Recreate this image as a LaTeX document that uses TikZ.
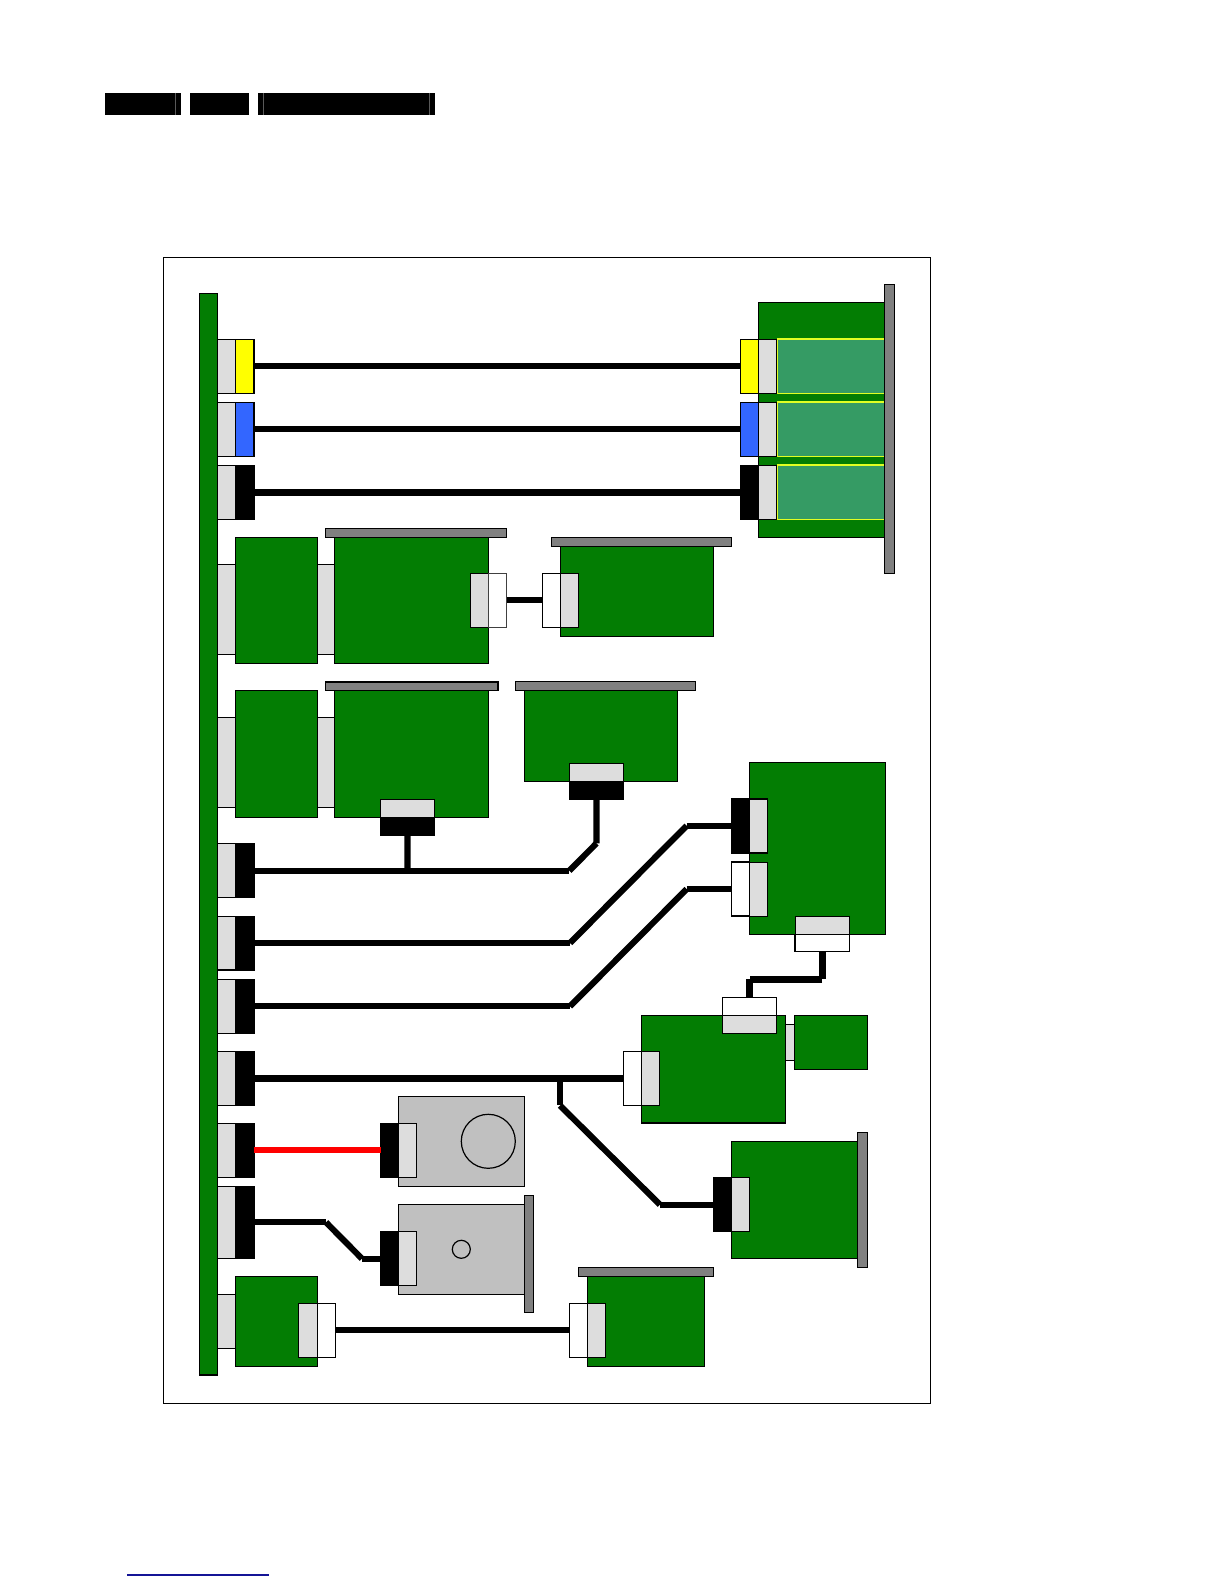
\documentclass[tikz,border=0pt]{standalone}
\usetikzlibrary{calc}
\definecolor{pcb}{RGB}{3,125,3}
\definecolor{lite}{RGB}{221,221,221}
\definecolor{barg}{RGB}{128,128,128}
\definecolor{motor}{RGB}{192,192,192}
\definecolor{panelg}{RGB}{53,155,100}
\definecolor{panely}{RGB}{225,255,35}
\definecolor{blu}{RGB}{51,102,255}
\definecolor{navy}{RGB}{20,20,150}
\definecolor{plugy}{RGB}{255,255,0}
\tikzset{
  box/.style={draw=black,line width=0.95pt,inner sep=0pt,outer sep=0pt,anchor=north west},
  board/.style={box,fill=pcb},
  plug/.style={box,fill=lite},
  thin plug/.style={box,fill=lite,line width=0.75pt},
  open/.style={box,fill=white,line width=0.8pt},
  ylw/.style={box,fill=plugy},
  blue plug/.style={box,fill=blu},
  blk/.style={box,fill=black},
  bar/.style={box,fill=barg},
  motorbox/.style={box,fill=motor,line width=0.8pt},
  panel/.style={box,fill=panelg,draw=panely,line width=0.95pt},
  inkbar/.style={box,fill=black,draw=none},
  wire/.style={draw=black,line width=4.6pt,line cap=butt},
  wire3/.style={wire,line width=5pt},
  redwire/.style={wire,draw=red},
  hub/.style={draw=black,line width=0.9pt,fill=none},
  headerline/.style={draw=black!65,line width=0.8pt}
}
\newcommand{\bx}[6][box]{%
  \pgfmathsetmacro{\bxw}{(#5-#3)*0.75}%
  \pgfmathsetmacro{\bxh}{(#6-#4)*0.75}%
  \node[#1,minimum width=\bxw pt,minimum height=\bxh pt] (#2) at (#3,#4) {};}
\begin{document}
\begin{tikzpicture}[x=0.75pt,y=-0.75pt]
\useasboundingbox (0,0) rectangle (1224,1584);
\fill[white] (0,0) rectangle (1224,1584);
% header
\bx[inkbar]{h1}{105}{93}{180.7}{114.7}
\bx[inkbar]{h2}{190}{93}{249}{114.7}
\bx[inkbar]{h3}{258}{93}{434.7}{114.7}
\draw[headerline] (175.7,93) -- (175.7,114.7);
\draw[headerline] (263.3,93) -- (263.3,114.7);
\draw[headerline] (429.3,93) -- (429.3,114.7);
% footer
\coordinate (fa) at (127,1575); \coordinate (fb) at (269,1575);
\draw[navy,line width=0.85pt] (fa) -- (fb);
% frame
\bx[box,line width=0.8pt]{frame}{163.7}{257.7}{930.1}{1403.5}

% --- wire way-points
\coordinate (w4a) at (569.3,870.7);
\coordinate (w4b) at (596.5,843.3);
\coordinate (w5a) at (570,943);
\coordinate (w5b) at (686.7,825.7);
\coordinate (w6a) at (570,1006.3);
\coordinate (w6b) at (686.7,889);
\coordinate (w7a) at (560,1078.3);
\coordinate (w7b) at (560,1104.7);
\coordinate (w7c) at (560,1105.5);
\coordinate (w7d) at (660,1204.7);
\coordinate (w9a) at (326,1222.3);
\coordinate (w9b) at (362,1258.7);
\coordinate (ea) at (822.2,979.3);
\coordinate (eb) at (749.5,979.3);
\coordinate (t4) at (407.5,870.7);

% --- main bus
\bx[board]{bus}{199.3}{293.5}{217.3}{1375}

% --- top-right assembly
\bx[board]{rb}{758.3}{302.7}{884.7}{537.3}
\bx[panel]{p1}{777.3}{339}{884.7}{393.3}
\bx[panel]{p2}{777.3}{402}{884.7}{456.3}
\bx[panel]{p3}{777.3}{465}{884.7}{519.3}
\bx[bar]{rbar}{884.7}{284.7}{894.3}{573.3}

% --- boards, row 1
\bx[plug]{a1l}{217.3}{564.3}{235.3}{654.3}
\bx[plug]{a1r}{317.3}{564.3}{334.7}{654.3}
\bx[board]{a1}{235.3}{537.3}{317.3}{663.3}
\bx[board]{b1}{334.7}{537.3}{488.3}{663.3}
\bx[bar]{b1bar}{325.3}{528.3}{506.7}{537.3}
\bx[board]{c1}{560.7}{546.3}{713.3}{636.3}
\bx[bar]{c1bar}{551.3}{537.3}{731.3}{546.3}

% --- boards, row 2
\bx[plug]{a2l}{217.3}{717.3}{235.3}{807.7}
\bx[plug]{a2r}{317.3}{717.3}{334.7}{807.7}
\bx[board]{a2}{235.3}{690.7}{317.3}{817.3}
\bx[board]{b2}{334.7}{690.7}{488.3}{817.3}
\bx[bar]{b2bar}{325.3}{682}{497.9}{690.7}
\bx[board]{d}{524.7}{690.7}{677.3}{781.3}
\bx[bar]{dbar}{515.3}{681.3}{695.7}{690.7}

% --- right boards
\bx[board]{e}{749.3}{762.7}{885.7}{934.3}
\bx[plug]{fg}{785.3}{1024.3}{795}{1060.3}
\bx[board]{f}{641.3}{1015.3}{785.3}{1123}
\bx[board]{g}{794.3}{1015.3}{867.7}{1069.3}
\bx[board]{hb}{731.3}{1141.3}{857.7}{1258.3}
\bx[bar]{hbar}{857.7}{1132.3}{867.7}{1267.3}
\bx[board]{i}{587.3}{1276.7}{704.7}{1366.3}
\bx[bar]{ibar}{578.3}{1267.3}{713.7}{1276.7}
\bx[plug]{jl}{217.3}{1294.3}{235.3}{1348.3}
\bx[board]{j}{235.3}{1276.3}{317.3}{1366.3}

% --- motors
\bx[motorbox]{m1}{398.3}{1096.3}{524.3}{1186.3}
\bx[motorbox]{m2}{398.3}{1204.3}{524.3}{1294.3}
\bx[bar]{m2bar}{524.3}{1195.3}{533.7}{1312.3}
\node[hub,circle,minimum size=40.5pt,inner sep=0pt,outer sep=0pt] (m1c) at (488.3,1141.3) {};
\node[hub,circle,minimum size=13.5pt,inner sep=0pt,outer sep=0pt] (m2c) at (461.3,1249.3) {};

% --- left connectors
\bx[plug]{l1a}{217.3}{339.3}{235.3}{393.3}  \bx[ylw]{l1b}{235.3}{339.3}{254}{393.3}
\bx[plug]{l2a}{217.3}{402.3}{235.3}{456.3}  \bx[blue plug]{l2b}{235.3}{402.3}{254}{456.3}
\bx[plug]{l3a}{217.3}{465.3}{235.3}{519.3}  \bx[blk]{l3b}{235.3}{465.3}{254}{519.3}
\bx[plug]{l4a}{217.3}{843.7}{235.3}{897.7}  \bx[blk]{l4b}{235.3}{843.7}{254}{897.7}
\bx[plug]{l5a}{217.3}{916.3}{235.3}{970}    \bx[blk]{l5b}{235.3}{916.3}{254}{970}
\bx[plug]{l6a}{217.3}{979.3}{235.3}{1033.3} \bx[blk]{l6b}{235.3}{979.3}{254}{1033.3}
\bx[plug]{l7a}{217.3}{1051.3}{235.3}{1105.3}\bx[blk]{l7b}{235.3}{1051.3}{254}{1105.3}
\bx[plug]{l8a}{217.3}{1123.3}{235.3}{1177.3}\bx[blk]{l8b}{235.3}{1123.3}{254}{1177.3}
\bx[plug]{l9a}{217.3}{1186.3}{235.3}{1258.3}\bx[blk]{l9b}{235.3}{1186.3}{254}{1258.3}

% --- far-end connectors
\bx[ylw]{r1a}{740.7}{339.3}{758.3}{393.3}  \bx[plug]{r1b}{758.3}{339.3}{776.7}{393.3}
\bx[blue plug]{r2a}{740.7}{402.3}{758.3}{456.3} \bx[plug]{r2b}{758.3}{402.3}{776.7}{456.3}
\bx[blk]{r3a}{740.7}{465.3}{758.3}{519.3}  \bx[plug]{r3b}{758.3}{465.3}{776.7}{519.3}
\bx[thin plug]{x1a}{470.7}{573.3}{488.3}{627.3} \bx[open,draw=black!75]{x1b}{488.3}{573.3}{506.7}{627.3}
\bx[open]{x2a}{542.3}{573.3}{560.7}{627.3} \bx[thin plug]{x2b}{560.7}{573.3}{578.7}{627.3}
\bx[plug]{b2c}{380.3}{799.3}{434.7}{817.3} \bx[blk]{b2k}{380.3}{817.3}{434.7}{835.3}
\bx[plug]{dc}{569.3}{763.3}{623.7}{781.3}  \bx[blk]{dk}{569.3}{781.3}{623.7}{799.7}
\bx[blk]{e1a}{731.3}{798.9}{749.3}{852.9}  \bx[plug]{e1b}{749.3}{798.9}{767.3}{852.9}
\bx[open]{e2a}{731.3}{862}{749.3}{916}     \bx[thin plug]{e2b}{749.3}{862}{767.3}{916}
\bx[thin plug]{e3a}{795}{916.3}{849.3}{934.3} \bx[open]{e3b}{795}{934.3}{849.3}{951.3}
\bx[open]{f1a}{722.3}{997.3}{776.7}{1015.3} \bx[thin plug]{f1b}{722.3}{1015.3}{776.7}{1033.3}
\bx[open]{f2a}{623.3}{1051.3}{641.3}{1105.3} \bx[thin plug]{f2b}{641.3}{1051.3}{659.3}{1105.3}
\bx[blk]{ha}{713.7}{1177.7}{731.3}{1231.7}   \bx[plug]{hc}{731.3}{1177.7}{749.3}{1231.7}
\bx[open]{i1a}{569.3}{1303.3}{587.3}{1357.3} \bx[thin plug]{i1b}{587.3}{1303.3}{605.3}{1357.3}
\bx[blk]{m1a}{380.7}{1123.3}{398.3}{1177.3}  \bx[plug]{m1b}{398.3}{1123.3}{416.7}{1177.3}
\bx[blk]{m2a}{380.7}{1231.3}{398.3}{1285.3}  \bx[plug]{m2b}{398.3}{1231.3}{416.7}{1285.3}
\bx[thin plug]{j1a}{298.7}{1303.3}{317.3}{1357.3} \bx[open]{j1b}{317.3}{1303.3}{335.3}{1357.3}

% --- wires
\draw[wire] (l1b.east) -- (r1a.west);
\draw[wire] (l2b.east) -- (r2a.west);
\draw[wire3] (l3b.east) -- (r3a.west);
\draw[wire] (x1b.east) -- (x2a.west);
\draw[wire] (l4b.east) -- (w4a);
\draw[wire] (w4a) -- (w4b);
\draw[wire] (w4b) -- (dk.south);
\draw[wire] (t4) -- (b2k.south);
\draw[wire] (l5b.east) -- (l5b.east -| w5a);
\draw[wire] (w5a) -- (w5b);
\draw[wire] (w5b) -- (w5b -| e1a.west);
\draw[wire] (l6b.east) -- (w6a);
\draw[wire] (w6a) -- (w6b);
\draw[wire] (w6b) -- (w6b -| e2a.west);
\draw[wire3] (ea) -- (ea |- e3b.south);
\draw[wire3] (ea) -- (eb);
\draw[wire3] (eb) -- (eb |- f1a.north);
\draw[wire3] (l7b.east) -- (f2a.west);
\draw[wire3] (w7a) -- (w7b);
\draw[wire] (w7c) -- (w7d);
\draw[wire] (w7d) -- (w7d -| ha.west);
\draw[redwire] (l8b.east) -- (m1a.west);
\draw[wire] (l9b.east) -- (w9a);
\draw[wire] (w9a) -- (w9b);
\draw[wire] (w9b) -- (w9b -| m2a.west);
\draw[wire] (j1b.east) -- (j1b.east -| i1a.west);
\end{tikzpicture}
\end{document}
